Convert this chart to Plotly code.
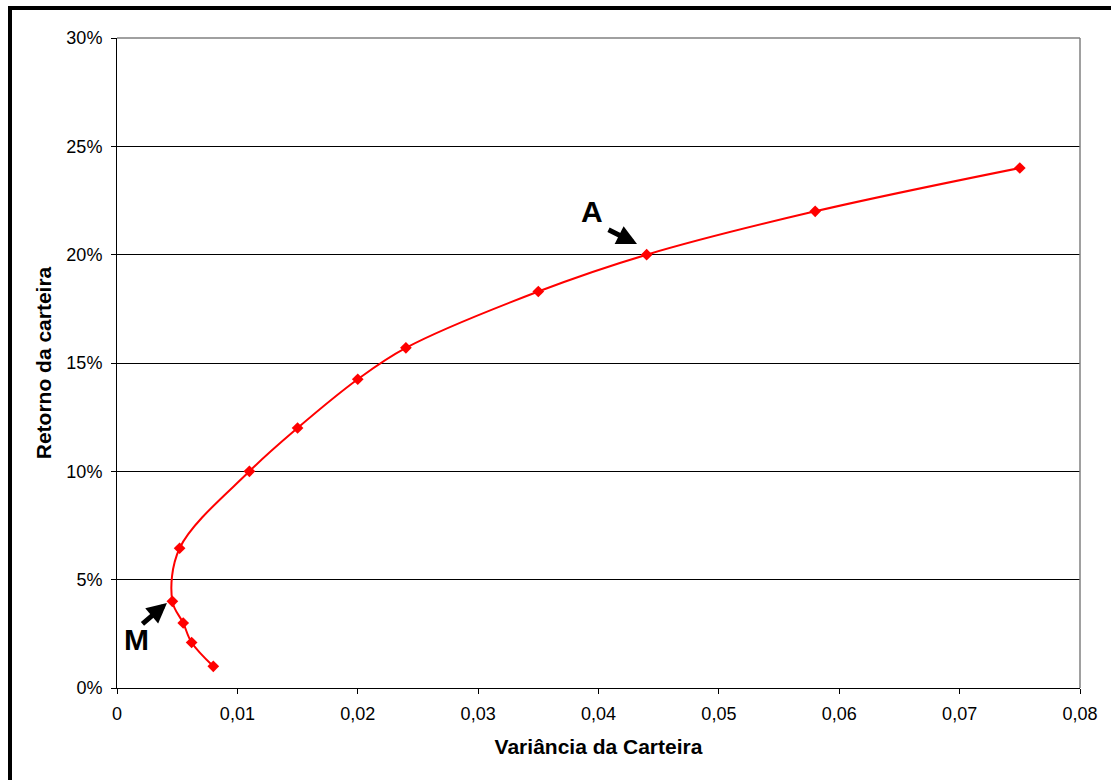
import plotly.graph_objects as go

# Efficient frontier: portfolio variance vs. expected return
variancia = [0.008, 0.0062, 0.0055, 0.0046, 0.0052, 0.011, 0.015, 0.020, 0.024, 0.035, 0.044, 0.058, 0.075]
retorno = [0.010, 0.021, 0.030, 0.040, 0.0645, 0.100, 0.120, 0.1425, 0.157, 0.183, 0.200, 0.220, 0.240]

x_ticks = [0, 0.01, 0.02, 0.03, 0.04, 0.05, 0.06, 0.07, 0.08]
y_ticks = [0, 0.05, 0.10, 0.15, 0.20, 0.25, 0.30]

# plot area in pixels
L, R, T, B = 117, 31, 38, 92
W, H = 1111, 780
pw, ph = W - L - R, H - T - B

def px_x(p):
    return (p - L) / pw

def px_y(p):
    return (H - B - p) / ph

FONT = "Liberation Sans, Arial, sans-serif"

fig = go.Figure()
fig.add_trace(go.Scatter(
    x=variancia, y=retorno,
    mode="lines+markers",
    line=dict(color="#ff0000", width=2, shape="spline", smoothing=1),
    marker=dict(symbol="diamond", size=9, color="#ff0000"),
    hoverinfo="x+y",
    showlegend=False,
))

fig.update_layout(
    width=W, height=H,
    margin=dict(l=L, r=R, t=T, b=B, pad=0),
    paper_bgcolor="white", plot_bgcolor="white",
    separators=",.",
    font=dict(family=FONT, size=18, color="black"),
    xaxis=dict(
        range=[0, 0.08], tickvals=x_ticks, tickformat="~g",
        showgrid=False, zeroline=False,
        showline=True, linecolor="black", linewidth=1,
        ticks="outside", ticklen=5, tickcolor="black",
        ticklabelstandoff=4,
        tickfont=dict(size=18),
        title=dict(text="<b>Variância da Carteira</b>", font=dict(size=21), standoff=16),
    ),
    yaxis=dict(
        range=[0, 0.30], tickvals=y_ticks, tickformat=".0%",
        showgrid=True, gridcolor="black", gridwidth=1,
        zeroline=False,
        showline=True, linecolor="black", linewidth=1,
        ticks="outside", ticklen=5, tickcolor="black",
        ticklabelstandoff=5,
        tickfont=dict(size=18),
        title=dict(text="<b>Retorno da carteira</b>", font=dict(size=21), standoff=9),
    ),
)

# gray frame on top and right of the plot area
fig.add_shape(type="line", xref="paper", yref="paper", x0=0, x1=1, y0=1, y1=1,
              line=dict(color="#808080", width=1.5), layer="above")
fig.add_shape(type="line", xref="paper", yref="paper", x0=1, x1=1, y0=0, y1=1,
              line=dict(color="#808080", width=1.5), layer="above")

# outer black frame of the chart
fig.add_shape(type="rect", xref="paper", yref="paper",
              x0=px_x(10), x1=px_x(1125), y0=px_y(795), y1=px_y(8),
              line=dict(color="black", width=4), layer="above")

# labels A and M
fig.add_annotation(x=0.03945, y=0.2197, xref="x", yref="y",
                   xanchor="center", yanchor="middle",
                   text="<b>A</b>", showarrow=False, font=dict(size=30, color="black"))
fig.add_annotation(x=0.00166, y=0.0222, xref="x", yref="y",
                   xanchor="center", yanchor="middle",
                   text="<b>M</b>", showarrow=False, font=dict(size=30, color="black"))

# arrows pointing at the two portfolios
fig.add_annotation(x=0.0432, y=0.2049, xref="x", yref="y", text="",
                   showarrow=True, axref="pixel", ayref="pixel", ax=-30, ay=-15,
                   arrowhead=2, arrowsize=0.8, arrowwidth=5, arrowcolor="black")
fig.add_annotation(x=0.00415, y=0.0392, xref="x", yref="y", text="",
                   showarrow=True, axref="pixel", ayref="pixel", ax=-26, ay=22,
                   arrowhead=2, arrowsize=0.8, arrowwidth=5, arrowcolor="black")

fig.write_html("out.html")
